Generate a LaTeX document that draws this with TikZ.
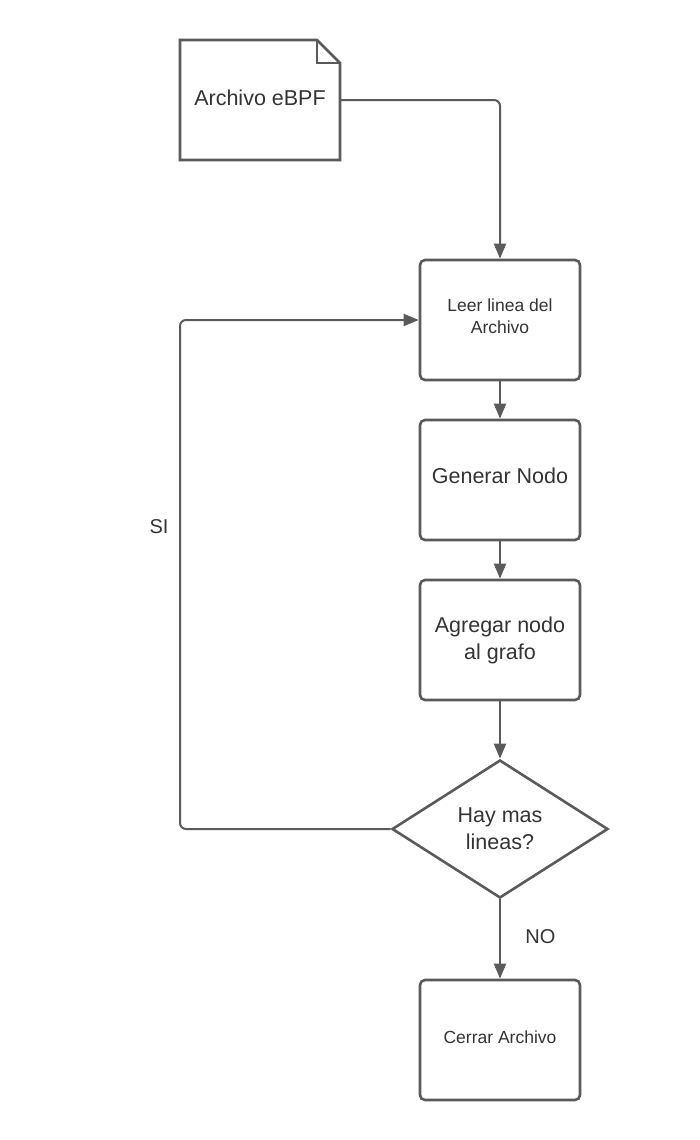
\documentclass[tikz,border=0pt]{standalone}
\usepackage{fontspec}
\setmainfont{Liberation Sans}
\usetikzlibrary{arrows.meta,shapes.geometric}
\definecolor{ln}{HTML}{5A5A5A}
\definecolor{tx}{HTML}{333333}
\tikzset{
  box/.style={draw=ln,line width=2.6pt,rounded corners=5pt,minimum width=160pt,minimum height=120pt,align=center,text=tx,inner sep=0pt},
  big/.style={font=\fontsize{21.5}{27}\selectfont},
  small/.style={font=\fontsize{17.5}{22}\selectfont},
  conn/.style={draw=ln,line width=2pt,rounded corners=6pt,-{Triangle[length=15pt,width=12pt]}},
  lbl/.style={text=tx,font=\fontsize{20}{24}\selectfont}
}
\begin{document}
\begin{tikzpicture}[x=1pt,y=-1pt]
\useasboundingbox (0,0) rectangle (700,1140);
% document shape
\draw[ln,line width=2.6pt,line join=miter] (180,40) -- (317,40) -- (340,63) -- (340,160) -- (180,160) -- cycle;
\draw[ln,line width=2.6pt] (317,40) -- (317,63) -- (340,63);
\node[big,text=tx] (doc) at (260,98) {Archivo eBPF};
\coordinate (docE) at (340,100);
\node[box,small,text depth=8pt] (leer) at (500,320) {Leer linea del\\Archivo};
\node[box,big,text depth=9pt] (gen) at (500,480) {Generar Nodo};
\node[box,big] (agr) at (500,640) {Agregar nodo\\al grafo};
\node[draw=ln,line width=2.6pt,diamond,aspect=1.565,minimum width=216pt,minimum height=138pt,inner sep=0pt,align=center,big,text=tx] (dec) at (500,829) {Hay mas\\lineas?};
\node[box,small,text depth=6pt] (cerr) at (500,1040) {Cerrar Archivo};
\coordinate (loopB) at (180,829);
\coordinate (loopT) at (180,320);
\draw[conn] (docE) -| (leer.north);
\draw[conn] (leer) -- (gen);
\draw[conn] (gen) -- (agr);
\draw[conn] (agr) -- (dec.north);
\draw[conn] (dec.south) -- (cerr) node[pos=0.47,right=21pt,lbl] {NO};
\draw[conn] (dec.west) -- (loopB) -- (loopT) -- (leer.west);
\node[lbl] (si) at (159,527) {SI};
\end{tikzpicture}
\end{document}
